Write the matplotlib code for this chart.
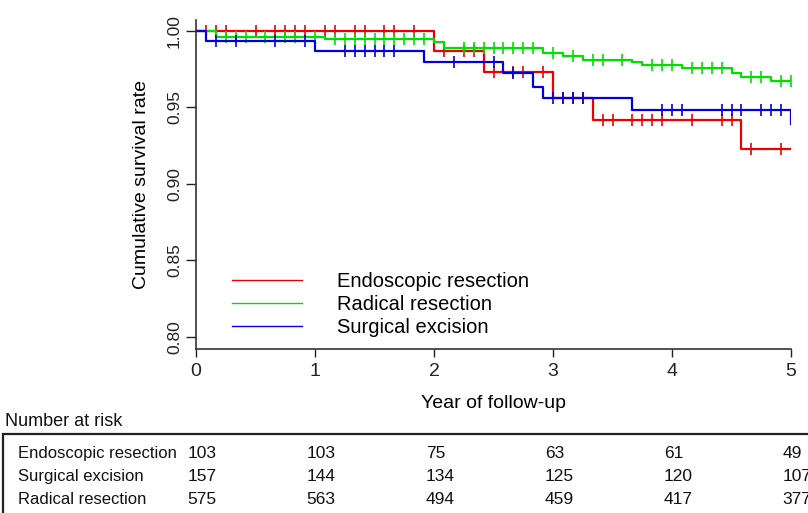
import numpy as np
import matplotlib
matplotlib.use('Agg')
import matplotlib.pyplot as plt
from matplotlib.lines import Line2D
from matplotlib.patches import Rectangle
from matplotlib.transforms import blended_transform_factory

plt.rcParams['font.family'] = ['Liberation Sans', 'DejaVu Sans']

# survival steps: month of event and survival after it; censored months
endo_ev = [24, 29, 36, 40, 55]
endo_s = [0.9868, 0.9727, 0.956, 0.9415, 0.9224]
endo_cens = [1, 2, 3, 6, 8, 9, 10, 11, 13, 14, 16, 17, 19, 20, 22, 25, 27, 28,
             30, 32, 33, 35, 37, 38, 39, 41, 42, 44, 45, 46, 47, 50, 53, 54, 56, 59]

rad_ev = [2, 13, 24, 25, 35, 37, 39, 44, 45, 49, 54, 55, 58]
rad_s = [0.996, 0.9944, 0.9923, 0.9885, 0.9855, 0.9833, 0.981, 0.9794, 0.9778,
         0.9753, 0.9724, 0.9698, 0.9672]
rad_cens = [3, 4, 5, 7, 9, 10, 12, 14, 15, 16, 17, 18, 19, 20, 21, 22, 23,
            27, 28, 29, 30, 31, 32, 33, 34, 36, 38, 40, 41, 43, 46, 47, 48,
            50, 51, 52, 53, 56, 57, 59, 60]

surg_ev = [1, 12, 23, 31, 34, 35, 44, 60]
surg_s = [0.9933, 0.9866, 0.9796, 0.972, 0.9633, 0.9557, 0.948, 0.9389]
surg_cens = [2, 4, 8, 11, 15, 16, 17, 18, 19, 20, 26, 30, 32, 36, 37, 38, 39,
             47, 48, 49, 53, 54, 55, 57, 58, 59]

groups = ['Endoscopic resection', 'Radical resection', 'Surgical excision']
colors = ['#ee0000', '#00e000', '#0000dd']

risk_groups = ['Endoscopic resection', 'Surgical excision', 'Radical resection']
risk_years = [0, 1, 2, 3, 4, 5]
risk_endo = [103, 103, 75, 63, 61, 49]
risk_surg = [157, 144, 134, 125, 120, 107]
risk_rad = [575, 563, 494, 459, 417, 377]

W, H = 808, 513
fig = plt.figure(figsize=(W / 100, H / 100), dpi=100)
ax = fig.add_axes([196 / W, 1 - 349 / H, (791 - 196) / W, (349 - 20) / H])

data = [(endo_ev, endo_s, endo_cens), (rad_ev, rad_s, rad_cens), (surg_ev, surg_s, surg_cens)]
for (ev, s, cens), c in zip(data, colors):
    t = [0] + [m / 12 for m in ev] + [5]
    y = [1.0] + s + [s[-1]]
    ax.step(t, y, where='post', color=c, lw=1.6)
    idx = np.searchsorted(np.array(ev), np.array(cens), side='right')
    lev = np.array([1.0] + s)[idx]
    ax.plot(np.array(cens) / 12, lev, ls='none', marker='|', ms=8, mew=1.2, color=c)

ax.set_xlim(0, 5)
ax.set_ylim(0.7922, 1.0069)
ax.set_xticks(risk_years)
ax.set_yticks([0.80, 0.85, 0.90, 0.95, 1.00])
ax.set_yticklabels(['0.80', '0.85', '0.90', '0.95', '1.00'], rotation=90,
                   va='center', fontsize=12.5)
ax.tick_params(axis='x', labelsize=14, length=6, width=1, pad=4, colors='#222222')
ax.tick_params(axis='y', length=7, width=1, pad=3, colors='#222222')
for sp in ['top', 'right']:
    ax.spines[sp].set_visible(False)
for sp in ['left', 'bottom']:
    ax.spines[sp].set_color('#333333')
    ax.spines[sp].set_linewidth(1.2)
ax.set_xlabel('Year of follow-up', fontsize=14, labelpad=11)
ax.set_ylabel('Cumulative survival rate', fontsize=14, labelpad=12)

handles = [Line2D([], [], color=c, lw=1.0) for c in colors]
ax.legend(handles, groups, loc='upper left', bbox_to_anchor=(232 / W, 1 - 272 / H),
          bbox_transform=fig.transFigure, frameon=False, fontsize=14.5,
          handlelength=3.5, handletextpad=1.7, labelspacing=0.2, borderpad=0,
          borderaxespad=0)

# number at risk table
fig.text(5 / W, 1 - 426 / H, 'Number at risk', fontsize=13,
         va='baseline', ha='left', color='#111111')
fig.add_artist(Rectangle((3 / W, -0.2), 1.5, 0.2 + 1 - 434 / H, fill=False,
                         lw=1.6, ec='#222222', transform=fig.transFigure))
trans = blended_transform_factory(ax.transData, fig.transFigure)
rows_y = [458, 481, 504]
for name, vals, yy in zip(risk_groups, [risk_endo, risk_surg, risk_rad], rows_y):
    fig.text(18 / W, 1 - yy / H, name, fontsize=12, va='baseline',
             ha='left', color='#111111')
    for yr, v in zip(risk_years, vals):
        ax.text(yr - 0.07, 1 - yy / H, str(v), transform=trans, fontsize=12.5,
                va='baseline', ha='left', color='#111111', clip_on=False)

fig.savefig('out.png', dpi=100)
